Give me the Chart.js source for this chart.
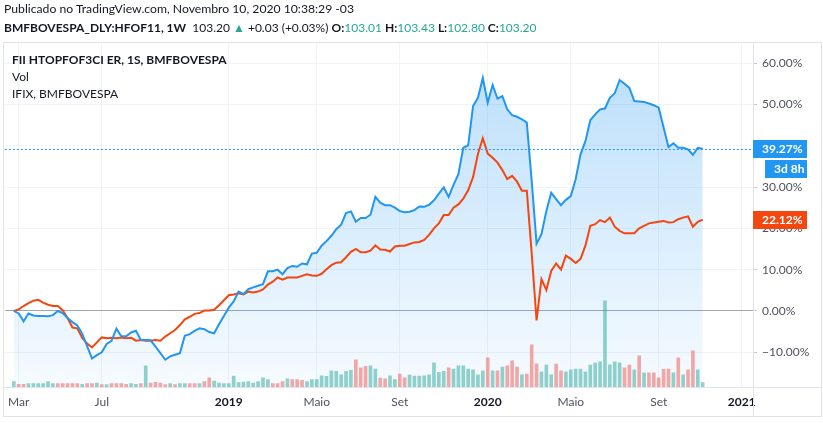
<!DOCTYPE html>
<html>
<head>
<meta charset="utf-8">
<script src="https://cdn.jsdelivr.net/npm/chart.js@4.4.1/dist/chart.umd.min.js"></script>
<style>
html,body{margin:0;padding:0;background:#fff;}
#wrap{position:relative;width:823px;height:423px;font-family:Lato,"Liberation Sans",sans-serif;color:#131722;}
#c{position:absolute;left:0;top:0;}
.t{position:absolute;white-space:nowrap;font-size:12px;line-height:14px;}
.h{font-size:12.2px;}
.b{font-weight:bold;}
.g{color:#26a69a;}
.sp{display:inline-block;width:3px;}
</style>
</head>
<body>
<div id="wrap">
  <canvas id="c" width="823" height="423"></canvas>
  <div class="t h" style="left:4px;top:2px">Publicado no TradingView.com, Novembro 10, 2020 10:38:29 -03</div>
  <div class="t" style="left:4px;top:21px"><span class="b">BMFBOVESPA_DLY:HFOF11, 1W</span><span class="sp"></span> 103.20 <span class="g">&#9650;</span> +0.03 (+0.03%) <span class="b">O:</span><span class="g">103.01</span><span class="sp"></span><span class="b">H:</span><span class="g">103.43</span><span class="sp"></span><span class="b">L:</span><span class="g">102.80</span><span class="sp"></span><span class="b">C:</span><span class="g">103.20</span></div>
  <div class="t b" style="left:12px;top:53px">FII HTOPFOF3CI ER, 1S, BMFBOVESPA</div>
  <div class="t" style="left:12px;top:70px">Vol</div>
  <div class="t" style="left:12px;top:87px">IFIX, BMFBOVESPA</div>
</div>
<script>
/* ── dados (variação % semanal desde fev/2018) ── */
const hfof = [0,-0.6,-2.5,-0.6,-1.1,-1.2,-1.2,-1.3,-1.0,0,
  -0.5,-1.7,-2.7,-3.5,-5.5,-8.5,-11.5,-10.7,-10,-8.0,
  -7.2,-4.3,-6.1,-6.1,-5.2,-4.8,-7.0,-7.0,-7.1,-8.6,
  -10.2,-11.8,-11.0,-10.6,-10.2,-6.0,-5.6,-4.8,-4.2,-4.4,
  -5.1,-5.4,-3.2,-1.2,0.8,2.3,4.7,4.1,5.3,5.7,
  6.1,6.5,9.6,9.6,10.0,8.9,10.4,10.9,10.7,11.5,
  11.3,13.9,14.1,15.8,16.9,18.2,19.8,20.9,23.7,24.1,
  21.6,22.5,22.5,23.3,27.6,26.2,25.6,25.6,25.0,24.2,
  23.9,24.0,24.4,25.3,25.2,25.7,26.8,28.4,29.9,27.6,
  30.5,33.1,39.5,40.1,49.6,51.6,56.4,50.4,54.7,51.4,
  52.0,48.8,47.4,47.0,46.4,45.6,31.5,16.3,18.6,24.2,
  28.6,27.1,25.6,26.9,27.8,31.9,37.9,41.1,46.2,47.6,
  48.8,49.0,51.6,52.7,55.9,55.0,54.0,50.8,50.7,50.6,
  50.2,49.8,49.2,44.4,39.7,40.6,39.5,39.5,39.1,37.8,
  39.5,39.27];

const ifix = [0,0.4,1.2,1.9,2.5,2.7,2.0,1.5,1.2,1.2,
  0.2,-1.7,-4.0,-4.2,-6.5,-7.9,-8.8,-7.6,-6.4,-6.6,
  -6.5,-6.6,-6.4,-6.6,-6.5,-7.2,-7.0,-7.2,-7.2,-7.0,
  -7.2,-6.2,-5.4,-4.6,-3.4,-2.0,-1.4,-0.7,-0.5,0.1,
  0.1,0.3,1.4,2.6,3.8,4.0,4.3,4.0,4.7,4.5,
  4.7,5.2,6.4,7.1,8.1,7.6,8.1,8.1,8.1,8.5,
  8.9,8.6,8.5,9.0,10.1,11.1,11.7,11.8,13.0,14.3,
  15.0,14.2,14.2,14.6,15.9,14.9,14.8,14.4,15.6,15.8,
  15.8,16.2,16.6,16.7,17.2,18.4,20.0,21.2,23.2,23.2,
  25.0,25.8,27.2,29.2,32.4,38.0,41.8,38.1,37.1,35.9,
  34.1,31.9,32.7,31.3,29.1,29.1,14.0,-2.3,7.7,5.1,
  9.7,11.5,10.0,13.4,12.6,11.6,12.6,15.8,20.6,21.0,
  22.0,21.5,22.6,20.4,19.4,18.8,18.8,18.8,20.0,20.6,
  21.2,21.4,21.6,21.8,21.4,21.5,22.2,22.6,22.9,20.4,
  21.6,22.12];

const volume = [16,8,8,10,10,10,10,16,10,10,
  10,10,10,10,8,10,10,12,7,7,
  10,10,10,8,10,8,10,64,12,14,
  12,7,10,7,10,10,10,10,10,16,
  28,18,12,10,10,33,13,15,16,12,
  16,28,22,10,10,16,25,22,22,20,
  16,22,22,34,32,49,47,37,47,50,
  82,58,62,64,54,27,25,34,22,39,
  28,36,33,33,34,37,73,44,47,58,
  54,64,64,54,52,37,49,88,49,49,
  60,64,79,60,37,39,127,70,46,66,
  37,69,49,46,52,54,54,46,66,72,
  76,260,67,76,73,58,66,52,94,43,
  43,43,28,53,54,43,88,37,52,109,
  52,13];

// 1 = semana de alta, 0 = baixa
const volUp = [1,0,0,1,1,1,1,1,1,0,
  0,0,0,0,1,0,0,1,0,1,
  0,0,0,0,1,1,0,1,0,0,
  0,0,1,0,1,1,0,0,1,0,
  0,1,1,1,1,1,1,1,1,1,
  1,1,1,0,0,0,1,0,0,0,
  1,1,1,1,1,1,1,1,1,1,
  0,0,0,1,1,0,0,1,1,0,
  0,1,1,1,1,1,1,1,1,0,
  1,1,1,1,1,1,1,0,1,0,
  1,0,0,0,1,0,0,0,1,1,
  1,0,0,1,1,1,1,1,1,1,
  1,1,1,1,1,0,0,1,0,1,
  0,0,0,0,0,1,0,1,0,0,
  1,1];

const tickWeeks  = [1,18,44,62,79,97,114,132,149];
const tickLabels = ['Mar','Jul','2019','Maio','Set','2020','Maio','Set','2021'];
const yTicks     = [-10,0,10,20,30,40,50,60];

const BLUE='#2196f3', RED='#f4470f', FONT='Lato';
const pts = arr => arr.map((v,i)=>({x:i,y:v}));
const lastH = hfof[hfof.length-1], lastI = ifix[ifix.length-1];
const isYear = i => /^\d{4}$/.test(tickLabels[i]);

/* ── moldura, linha pontilhada e etiquetas do eixo ── */
const overlay = {
  id:'overlay',
  afterDatasetsDraw(chart){
    const {ctx, chartArea:a, scales:{y}} = chart;
    const yH = Math.round(y.getPixelForValue(lastH))+.5;
    ctx.save();
    ctx.strokeStyle=BLUE; ctx.lineWidth=1; ctx.setLineDash([2,2]);
    ctx.beginPath(); ctx.moveTo(a.left, yH); ctx.lineTo(a.right, yH); ctx.stroke();
    ctx.restore();
  },
  afterDraw(chart){
    const {ctx, chartArea:a, scales:{y}} = chart;
    ctx.save();
    ctx.strokeStyle='#e0e3eb'; ctx.lineWidth=1;
    ctx.strokeRect(3.5, 42.5, 818, 374);
    ctx.beginPath();
    ctx.moveTo(a.right+.5, 42); ctx.lineTo(a.right+.5, 417);
    ctx.moveTo(3, a.bottom+.5); ctx.lineTo(822, a.bottom+.5);
    ctx.stroke();

    const box = (txt, yc, bg, x0) => {
      ctx.fillStyle=bg; ctx.fillRect(x0, Math.round(yc-9), 807-x0, 18);
      ctx.fillStyle='#fff'; ctx.font=`bold 12px ${FONT}`;
      ctx.textBaseline='middle'; ctx.textAlign='left';
      ctx.fillText(txt, x0+9, yc+.5);
    };
    const yH = y.getPixelForValue(lastH), yI = y.getPixelForValue(lastI);
    box(lastH.toFixed(2)+'%', yH, BLUE, a.right);
    box('3d 8h', yH+20, BLUE, a.right+12);
    box(lastI.toFixed(2)+'%', yI, RED, a.right);
    ctx.restore();
  }
};

const chart = new Chart(document.getElementById('c'), {
  data:{
    datasets:[
      {type:'line', label:'HFOF11', data:pts(hfof), yAxisID:'y', order:0,
       borderColor:BLUE, borderWidth:2, pointRadius:0, tension:0, fill:'start',
       backgroundColor:(c)=>{
         const a=c.chart.chartArea; if(!a) return 'rgba(33,150,243,.15)';
         const g=c.chart.ctx.createLinearGradient(0,a.top,0,a.bottom);
         g.addColorStop(0,'rgba(33,150,243,.32)');
         g.addColorStop(1,'rgba(33,150,243,.04)');
         return g;
       }},
      {type:'line', label:'IFIX', data:pts(ifix), yAxisID:'y', order:1,
       borderColor:RED, borderWidth:2, pointRadius:0, tension:0, fill:false},
      {type:'bar', label:'Vol', data:pts(volume), yAxisID:'v', order:2,
       backgroundColor:volUp.map(u=>u?'rgba(38,166,154,.5)':'rgba(239,83,80,.5)'),
       barThickness:3}
    ]
  },
  options:{
    responsive:false, animation:false, events:[],
    layout:{padding:{top:42,left:3,right:2,bottom:7}},
    plugins:{legend:{display:false}, tooltip:{enabled:false}, filler:{drawTime:'beforeDatasetsDraw'}},
    scales:{
      x:{type:'linear', min:-1.84, max:151.3, offset:false,
         afterBuildTicks:s=>{s.ticks=tickWeeks.map(v=>({value:v}));},
         afterFit:s=>{s.height=29;},
         grid:{color:'#f0f3fa', drawTicks:false, offset:false},
         border:{display:false},
         ticks:{autoSkip:false, maxRotation:0, padding:8,
           callback:(v,i)=>tickLabels[i],
           color:(c)=>isYear(c.index)?'#131722':'#50535e',
           font:(c)=>({family:FONT, size:12, weight:isYear(c.index)?'bold':'normal'})}},
      y:{position:'right', min:-18.4, max:65.1,
         afterBuildTicks:s=>{s.ticks=yTicks.map(v=>({value:v}));},
         afterFit:s=>{s.width=68;},
         grid:{color:(c)=>c.tick&&c.tick.value===0?'#a3a6af':'#f0f3fa', tickLength:4, tickColor:'#c8cad3'},
         border:{display:false},
         ticks:{padding:5, color:'#50535e', font:{family:FONT, size:12},
           callback:v=>(v<0?'\u2212':'')+Math.abs(v).toFixed(2)+'%'}},
      v:{display:false, min:0, max:Math.max(...volume)*4}
    }
  },
  plugins:[overlay]
});
</script>
</body>
</html>
